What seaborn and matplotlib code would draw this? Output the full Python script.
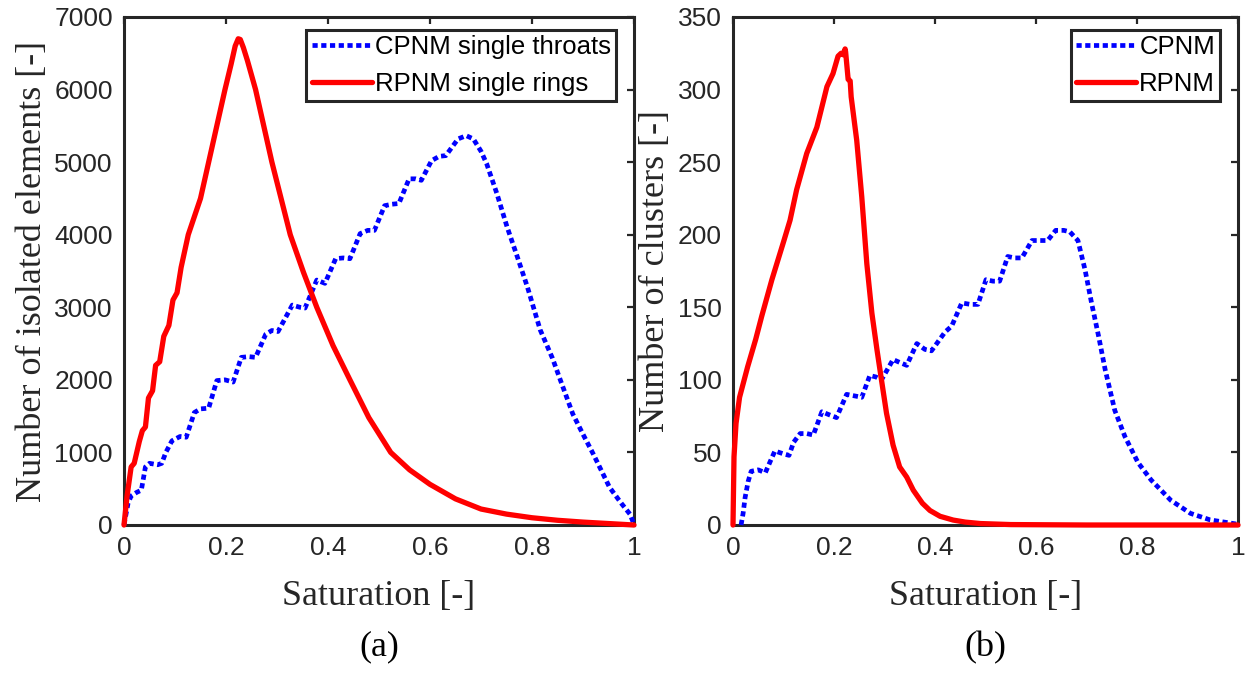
import matplotlib
matplotlib.use("Agg")
import matplotlib.pyplot as plt
import seaborn as sns
import pandas as pd

# ---------------- data ----------------
# (a) isolated elements
sat_a_cpnm = [0, 0.008, 0.014, 0.025, 0.034, 0.042, 0.05, 0.066, 0.074, 0.082,
              0.094, 0.11, 0.122, 0.138, 0.15, 0.166, 0.182, 0.198, 0.214, 0.23,
              0.245, 0.258, 0.278, 0.29, 0.302, 0.33, 0.345, 0.355, 0.378, 0.394,
              0.415, 0.43, 0.443, 0.463, 0.478, 0.491, 0.511, 0.525, 0.539, 0.559,
              0.572, 0.583, 0.603, 0.618, 0.631, 0.655, 0.671, 0.685, 0.7, 0.711,
              0.731, 0.751, 0.771, 0.791, 0.816, 0.84, 0.856, 0.88, 0.9, 0.92,
              0.952, 0.975, 0.992, 1.0]
val_a_cpnm = [0, 300, 400, 450, 480, 800, 850, 830, 850, 1000,
              1160, 1220, 1210, 1550, 1600, 1610, 1990, 2000, 1970, 2310,
              2320, 2310, 2630, 2680, 2666, 3030, 3000, 2990, 3375, 3330,
              3670, 3680, 3670, 4015, 4060, 4060, 4400, 4420, 4430, 4770,
              4770, 4750, 5020, 5080, 5090, 5320, 5365, 5320, 5150, 4980,
              4570, 4110, 3700, 3280, 2690, 2300, 1990, 1530, 1250, 980,
              520, 300, 150, 10]

sat_a_rpnm = [0, 0.006, 0.014, 0.02, 0.03, 0.036, 0.042, 0.048, 0.056, 0.062,
              0.07, 0.078, 0.088, 0.096, 0.104, 0.112, 0.126, 0.138, 0.15, 0.166,
              0.182, 0.198, 0.21, 0.218, 0.224, 0.228, 0.234, 0.242, 0.258, 0.29,
              0.326, 0.352, 0.378, 0.41, 0.443, 0.48, 0.523, 0.56, 0.6, 0.65,
              0.7, 0.75, 0.8, 0.85, 0.9, 0.95, 1.0]
val_a_rpnm = [0, 400, 800, 850, 1150, 1300, 1350, 1750, 1850, 2200,
              2250, 2600, 2750, 3100, 3200, 3550, 4000, 4250, 4500, 5000,
              5500, 6000, 6350, 6600, 6700, 6690, 6580, 6400, 6000, 5000,
              4000, 3480, 3000, 2470, 2000, 1480, 1000, 760, 560, 360,
              220, 150, 100, 65, 40, 20, 0]

# (b) clusters
sat_b_cpnm = [0.016, 0.02, 0.024, 0.03, 0.036, 0.05, 0.064, 0.074, 0.083, 0.1,
              0.111, 0.12, 0.133, 0.146, 0.159, 0.176, 0.19, 0.205, 0.225, 0.24,
              0.255, 0.271, 0.283, 0.294, 0.317, 0.33, 0.344, 0.364, 0.38, 0.393,
              0.42, 0.433, 0.453, 0.47, 0.485, 0.501, 0.515, 0.528, 0.544, 0.558,
              0.572, 0.592, 0.608, 0.623, 0.639, 0.655, 0.667, 0.683, 0.697, 0.71,
              0.724, 0.737, 0.756, 0.776, 0.802, 0.828, 0.867, 0.906, 0.945, 0.984,
              1.0]
val_b_cpnm = [0, 8, 19, 30, 37, 38, 36, 44, 51, 49,
              48, 57, 63, 63, 62, 78, 76, 74, 90, 89,
              88, 103, 102, 100, 114, 112, 110, 125, 121, 120,
              133, 137, 153, 152, 152, 169, 168, 168, 185, 184,
              184, 196, 196, 196, 203, 203, 202, 196, 176, 153,
              130, 107, 79, 61, 43, 31, 17, 8, 3.5, 1.4,
              0.5]

sat_b_rpnm = [0, 0.002, 0.006, 0.013, 0.029, 0.045, 0.057, 0.077, 0.1, 0.113,
              0.126, 0.146, 0.166, 0.186, 0.198, 0.208, 0.214, 0.218, 0.222, 0.223,
              0.228, 0.232, 0.234, 0.245, 0.255, 0.265, 0.275, 0.285, 0.294, 0.304,
              0.317, 0.33, 0.344, 0.357, 0.375, 0.39, 0.41, 0.436, 0.46, 0.49,
              0.55, 0.7, 1.0]
val_b_rpnm = [0, 47, 70, 88, 109, 128, 144, 169, 195, 210,
              231, 256, 274, 302, 311, 323, 325, 324, 328, 326,
              307, 306, 295, 265, 226, 180, 146, 121, 100, 77,
              55, 40, 33, 24, 15, 10, 6, 3.4, 2, 1,
              0.3, 0, 0]

x_ticks = [0, 0.2, 0.4, 0.6, 0.8, 1]
x_ticklabels = ["0", "0.2", "0.4", "0.6", "0.8", "1"]
y_ticks_a = [0, 1000, 2000, 3000, 4000, 5000, 6000, 7000]
y_ticks_b = [0, 50, 100, 150, 200, 250, 300, 350]

labels_a = ["CPNM single throats", "RPNM single rings"]
labels_b = ["CPNM", "RPNM"]
x_label = "Saturation [-]"
y_label_a = "Number of isolated elements [-]"
y_label_b = "Number of clusters [-]"
captions = ["(a)", "(b)"]

# ---------------- style ----------------
sns.set_theme(style="white")
plt.rcParams["font.family"] = ["Liberation Sans", "DejaVu Sans"]
plt.rcParams["axes.edgecolor"] = "#262626"
plt.rcParams["xtick.color"] = "#262626"
plt.rcParams["ytick.color"] = "#262626"

BLUE = "#0000ff"
RED = "#ff0000"
SERIF = ["Liberation Serif", "DejaVu Serif"]

fig = plt.figure(figsize=(12.5, 6.75), dpi=100)
ax_a = fig.add_axes([124 / 1250, 1 - 525 / 675, 510 / 1250, 508 / 675])
ax_b = fig.add_axes([733 / 1250, 1 - 525 / 675, 505 / 1250, 508 / 675])


def draw(ax, xs_c, ys_c, xs_r, ys_r, labels, yticks, ylabel, caption):
    dc = pd.DataFrame({"s": xs_c, "n": ys_c})
    dr = pd.DataFrame({"s": xs_r, "n": ys_r})
    sns.lineplot(data=dc, x="s", y="n", ax=ax, color=BLUE, linewidth=3.4,
                 estimator=None, sort=False, label=labels[0],
                 dashes=False, zorder=3, clip_on=False,
                 linestyle=(0, (1.1, 0.75)), dash_capstyle="butt")
    sns.lineplot(data=dr, x="s", y="n", ax=ax, color=RED, linewidth=3.8,
                 estimator=None, sort=False, label=labels[1],
                 zorder=4, clip_on=False)
    ax.set_xlim(0, 1)
    ax.set_ylim(yticks[0], yticks[-1])
    ax.set_xticks(x_ticks)
    ax.set_xticklabels(x_ticklabels)
    ax.set_yticks(yticks)
    ax.set_yticklabels([str(v) for v in yticks])
    ax.tick_params(axis="both", which="both", direction="in", length=5,
                   width=1.6, top=True, right=True, labelsize=19,
                   pad=8, colors="#262626")
    for sp in ax.spines.values():
        sp.set_linewidth(2.2)
        sp.set_color("#262626")
        sp.set_zorder(2.5)
    ax.set_xlabel(x_label, family=SERIF, fontsize=26, color="#262626",
                  labelpad=14)
    ax.set_ylabel(ylabel, family=SERIF, fontsize=26, color="#262626",
                  labelpad=4)
    ax.text(0.5, -0.208, caption, transform=ax.transAxes, ha="center",
            va="top", family=SERIF, fontsize=26, color="black")
    leg = ax.legend(loc="upper right", bbox_to_anchor=(0.965, 0.974),
                    fontsize=18.5, frameon=True, fancybox=False,
                    framealpha=1, edgecolor="#262626", borderpad=0.2,
                    handlelength=2.35, handletextpad=0.12,
                    labelspacing=0.5, borderaxespad=0)
    leg.get_frame().set_linewidth(2.2)
    for t in leg.get_texts():
        t.set_color("black")


draw(ax_a, sat_a_cpnm, val_a_cpnm, sat_a_rpnm, val_a_rpnm, labels_a,
     y_ticks_a, y_label_a, captions[0])
draw(ax_b, sat_b_cpnm, val_b_cpnm, sat_b_rpnm, val_b_rpnm, labels_b,
     y_ticks_b, y_label_b, captions[1])

fig.savefig("out.png", dpi=100, facecolor="white")
